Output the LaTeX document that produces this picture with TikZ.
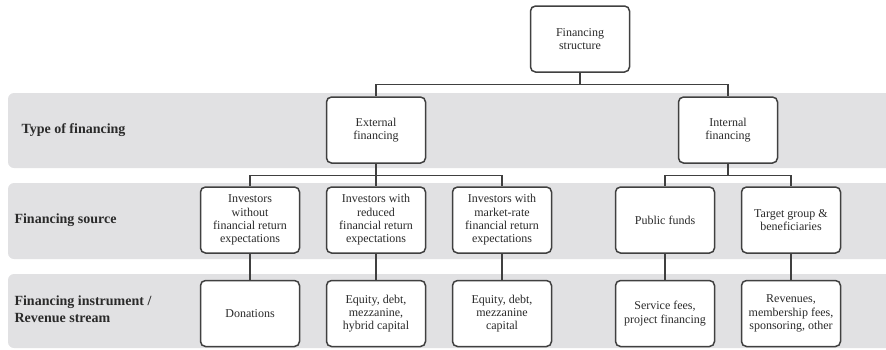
\documentclass[tikz,border=0pt]{standalone}
\usepackage{fontspec}
\setmainfont{Liberation Serif}
\usetikzlibrary{positioning}
\definecolor{bandgray}{HTML}{E1E1E3}
\definecolor{linegray}{HTML}{404040}
\definecolor{textgray}{HTML}{2A2A2A}

\begin{document}
\begin{tikzpicture}[x=1pt,y=-1pt,
	band/.style={fill=bandgray,rounded corners=6pt},
	box/.style={draw=linegray,line width=1.5pt,fill=white,rounded corners=5pt,
		minimum width=99pt,minimum height=66pt,inner sep=2pt,align=center,
		font=\fontsize{12}{13.3}\selectfont,text=textgray},
	rowlabel/.style={anchor=west,align=left,font=\fontsize{14}{17}\selectfont\bfseries,text=textgray},
	link/.style={draw=linegray,line width=1.1pt}]
	\useasboundingbox (0,0) rectangle (886,349);
	\fill[band] (8,93) rectangle (900,168);
	\fill[band] (8,183) rectangle (900,259);
	\fill[band] (8,274) rectangle (900,348);

	\node[rowlabel] (typeL) at (18,130) {Type of financing};
	\node[rowlabel] (sourceL) at (11,220) {Financing source};
	\node[rowlabel] (instrL) at (11,309) {Financing instrument /\\Revenue stream};

	\node[box] (struct) at (580,39) {Financing\\structure};
	\node[box] (ext) at (376,130) {External\\financing};
	\node[box] (int) at (728,130) {Internal\\financing};

	\node[box] (srcA) at (250,220) {Investors\\without\\financial return\\expectations};
	\node[box] (srcB) at (376,220) {Investors with\\reduced\\financial return\\expectations};
	\node[box] (srcC) at (502,220) {Investors with\\market-rate\\financial return\\expectations};
	\node[box] (srcD) at (665,220) {Public funds};
	\node[box] (srcE) at (791,220) {Target group \&\\beneficiaries};

	\node[box,below=26pt of srcA] (insA) {Donations};
	\node[box,below=26pt of srcB] (insB) {Equity, debt,\\mezzanine,\\hybrid capital};
	\node[box,below=26pt of srcC] (insC) {Equity, debt,\\mezzanine\\capital};
	\node[box,below=26pt of srcD] (insD) {Service fees,\\project financing};
	\node[box,below=26pt of srcE] (insE) {Revenues,\\membership fees,\\sponsoring, other};

	\draw[link] (struct.south) -- ++(0,12) -| (ext.north);
	\draw[link] (struct.south) -- ++(0,12) -| (int.north);
	\foreach \s in {srcA,srcB,srcC}
		\draw[link] (ext.south) -- ++(0,12) -| (\s.north);
	\foreach \s in {srcD,srcE}
		\draw[link] (int.south) -- ++(0,12) -| (\s.north);
	\foreach \s/\t in {srcA/insA,srcB/insB,srcC/insC,srcD/insD,srcE/insE}
		\draw[link] (\s.south) -- (\t.north);
\end{tikzpicture}
\end{document}
